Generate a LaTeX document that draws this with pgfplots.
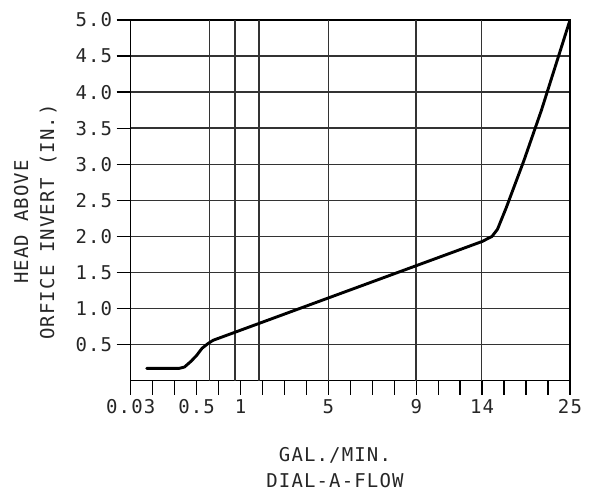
\documentclass[border=0pt]{standalone}
\usepackage{fontspec}
\setmainfont{DejaVu Sans Mono}[LetterSpace=6]
\usepackage{pgfplots}
\pgfplotsset{compat=1.18}

\begin{document}
\begin{tikzpicture}
\path (0pt,0pt) rectangle (595pt,493pt);
\begin{axis}[
    at={(130.7pt,112.3pt)}, anchor=south west,
    scale only axis,
    width=439.3pt, height=360.7pt,
    xmin=0, xmax=20, ymin=0, ymax=5,
    axis line style={line width=1.4pt},
    font=\fontsize{19}{26}\selectfont\color{black!85},
    xtick={0,1,...,20},
    xticklabels={0.03,,,0.5,,1,,,,5,,,,9,,,14,,,,25},
    ytick={0.5,1,...,5},
    yticklabels={0.5,1.0,1.5,2.0,2.5,3.0,3.5,4.0,4.5,5.0},
    xtick pos=left, ytick pos=left,
    tick align=outside,
    major tick length=14pt,
    tick style={line width=1.4pt, black},
    ymajorgrids,
    grid style={line width=1.5pt, black!80},
    extra x ticks={3.58,4.75,5.85,9,12.99,15.98},
    extra x tick labels={},
    extra x tick style={grid=major, major tick length=0pt, tick style={draw=none}},
    xlabel={GAL./MIN.\\DIAL-A-FLOW},
    xlabel style={align=center, at={(axis description cs:0.465,-0.242)}, anchor=center},
    ylabel={HEAD ABOVE\\ORFICE INVERT (IN.)},
    ylabel style={align=center, at={(axis description cs:-0.217,0.44)}, anchor=center},
    xticklabel style={yshift=-1pt},
    yticklabel style={xshift=-1pt},
]
\addplot[black, line width=2.9pt, line join=round, line cap=round] coordinates {
    (0.73,0.17) (2.2,0.17) (2.45,0.19) (2.75,0.27) (3.0,0.35) (3.25,0.45)
    (3.5,0.51) (3.75,0.56) (16.0,1.93) (16.45,2.0) (16.7,2.1) (17.1,2.4)
    (17.9,3.05) (18.7,3.75) (20,5.0)
};
\end{axis}
\end{tikzpicture}
\end{document}
